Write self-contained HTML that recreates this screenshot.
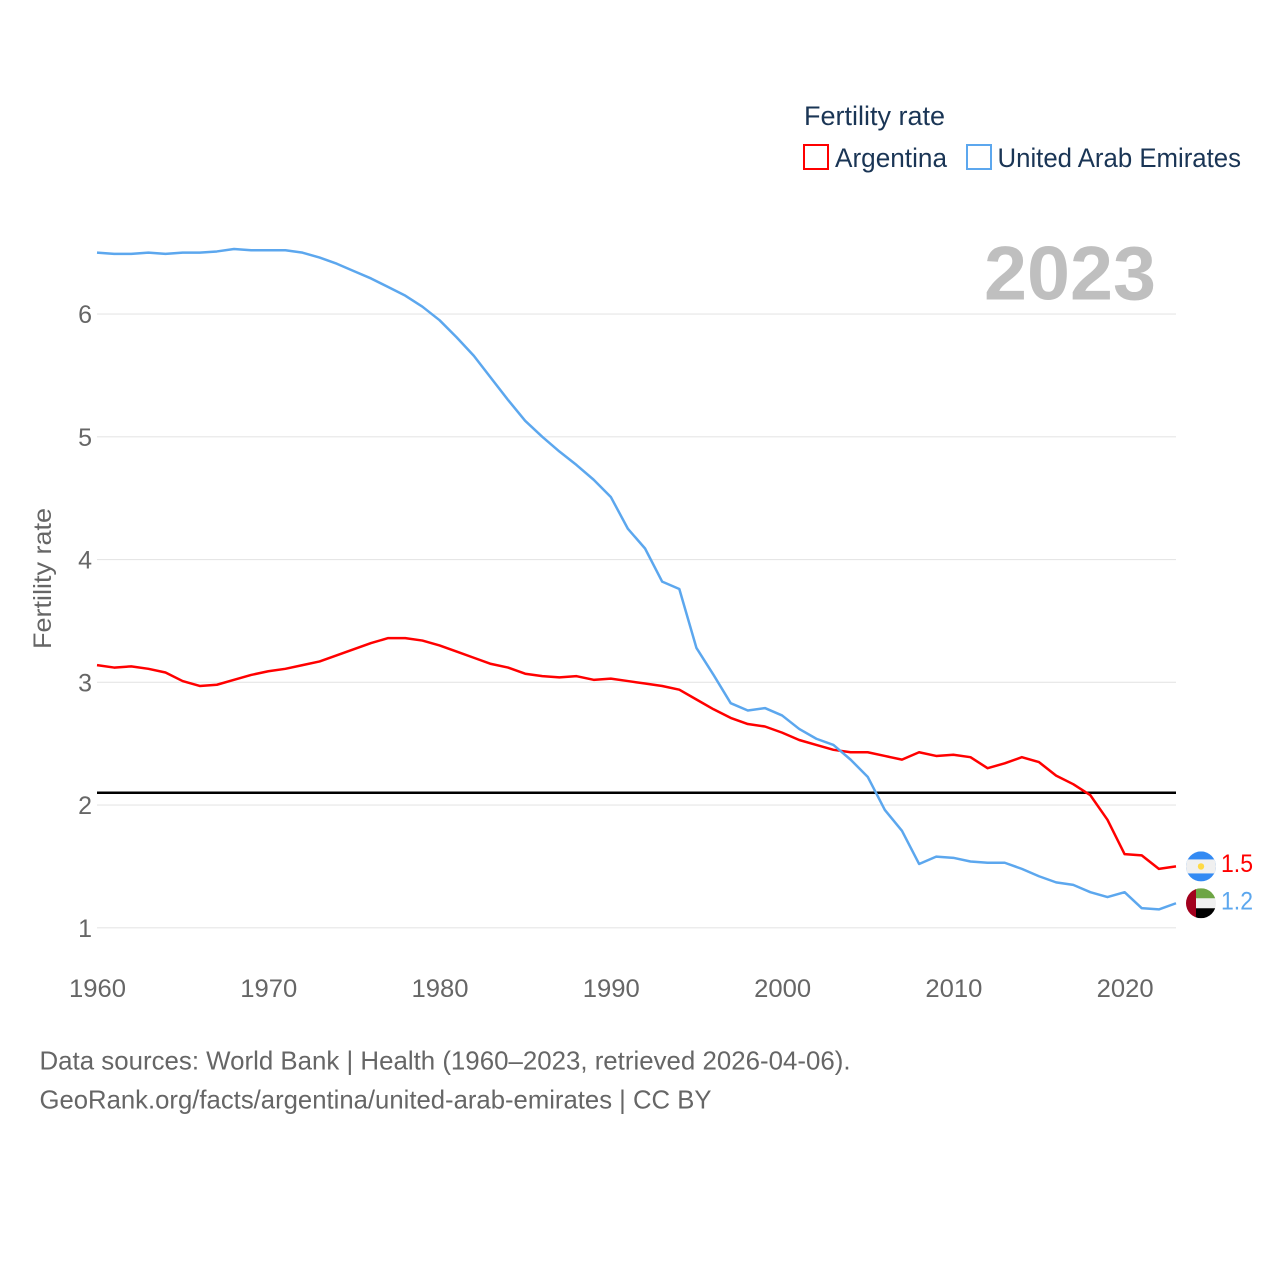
<!DOCTYPE html>
<html lang="en">
<head>
<meta charset="utf-8">
<title>Fertility rate: Argentina and United Arab Emirates</title>
<style>
html,body{margin:0;padding:0;background:#fff}
svg{display:block;font-family:"Liberation Sans",sans-serif}
</style>
</head>
<body>
<svg id="chart" width="1280" height="1280" viewBox="0 0 1280 1280" xmlns="http://www.w3.org/2000/svg">
  <defs>
    <clipPath id="clip-ar"><circle id="clip-ar-c" r="15"></circle></clipPath>
    <clipPath id="clip-ae"><circle id="clip-ae-c" r="15"></circle></clipPath>
  </defs>
  <rect x="0" y="0" width="1280" height="1280" fill="#fff"></rect>

  <g id="grid"></g>
  <g id="yticks"></g>
  <g id="xticks"></g>

  <text transform="translate(51,649) rotate(-90)" font-size="25" fill="#666" textLength="141" lengthAdjust="spacingAndGlyphs">Fertility rate</text>

  <text x="984" y="299.5" font-size="76" font-weight="700" fill="#bfbfbf" textLength="172" lengthAdjust="spacingAndGlyphs">2023</text>

  <line id="refline" stroke="#000" stroke-width="2.5"></line>
  <path id="line-ar" fill="none" stroke="#ff0000" stroke-width="2.5" stroke-linejoin="round"></path>
  <path id="line-ae" fill="none" stroke="#5ca7ee" stroke-width="2.5" stroke-linejoin="round"></path>

  <g id="flag-ar" clip-path="url(#clip-ar)"></g>
  <g id="flag-ae" clip-path="url(#clip-ae)"></g>
  <text id="end-ar" x="1221" font-size="25" fill="#ff0000" textLength="32" lengthAdjust="spacingAndGlyphs"></text>
  <text id="end-ae" x="1221" font-size="25" fill="#5ca7ee" textLength="32" lengthAdjust="spacingAndGlyphs"></text>

  <g>
    <text x="804" y="125" font-size="27" fill="#1a3555" textLength="141" lengthAdjust="spacingAndGlyphs">Fertility rate</text>
    <rect x="804" y="145" width="24" height="24" fill="none" stroke="#ff0000" stroke-width="2"></rect>
    <text x="835" y="167" font-size="27" fill="#1a3555" textLength="112" lengthAdjust="spacingAndGlyphs">Argentina</text>
    <rect x="967" y="145" width="24" height="24" fill="none" stroke="#5ca7ee" stroke-width="2"></rect>
    <text x="997.5" y="167" font-size="27" fill="#1a3555" textLength="243.5" lengthAdjust="spacingAndGlyphs">United Arab Emirates</text>
  </g>

  <text x="39.5" y="1069.5" font-size="26" fill="#666" textLength="811" lengthAdjust="spacingAndGlyphs">Data sources: World Bank | Health (1960–2023, retrieved 2026-04-06).</text>
  <text x="39.5" y="1108.5" font-size="26" fill="#666" textLength="672" lengthAdjust="spacingAndGlyphs">GeoRank.org/facts/argentina/united-arab-emirates | CC BY</text>
</svg>
<script>
const startYear = 1960;
const argentina = [3.14,3.12,3.13,3.11,3.08,3.01,2.97,2.98,3.02,3.06,3.09,3.11,3.14,3.17,3.22,3.27,3.32,3.36,3.36,3.34,3.30,3.25,3.20,3.15,3.12,3.07,3.05,3.04,3.05,3.02,3.03,3.01,2.99,2.97,2.94,2.86,2.78,2.71,2.66,2.64,2.59,2.53,2.49,2.45,2.43,2.43,2.40,2.37,2.43,2.40,2.41,2.39,2.30,2.34,2.39,2.35,2.24,2.17,2.08,1.88,1.60,1.59,1.48,1.50];
const uae = [6.50,6.49,6.49,6.50,6.49,6.50,6.50,6.51,6.53,6.52,6.52,6.52,6.50,6.46,6.41,6.35,6.29,6.22,6.15,6.06,5.95,5.81,5.66,5.48,5.30,5.13,5.00,4.88,4.77,4.65,4.51,4.25,4.09,3.82,3.76,3.28,3.06,2.83,2.77,2.79,2.73,2.62,2.54,2.49,2.37,2.23,1.96,1.79,1.52,1.58,1.57,1.54,1.53,1.53,1.48,1.42,1.37,1.35,1.29,1.25,1.29,1.16,1.15,1.20];
const yTicks = [1,2,3,4,5,6];
const xTicks = [1960,1970,1980,1990,2000,2010,2020];
const replacementRate = 2.1;
const endYear = 2023;

const NS = 'http://www.w3.org/2000/svg';
const xScale = year => 97 + (year - 1960) * (1176 - 97) / 63;
const yScale = value => 927.8 - (value - 1) * 122.75;
const make = (tag, parent, attrs) => {
  const el = document.createElementNS(NS, tag);
  for (const k in attrs) el.setAttribute(k, attrs[k]);
  parent.appendChild(el);
  return el;
};
const byId = id => document.getElementById(id);

yTicks.forEach(v => {
  const line = make('line', byId('grid'), {x1: xScale(1960), x2: xScale(endYear), y1: yScale(v), y2: yScale(v), stroke: '#e6e6e6', 'stroke-width': 1.2});
  
  
  const label = make('text', byId('yticks'), {x: 92, y: yScale(v) + 9, 'text-anchor': 'end', 'font-size': 25, fill: '#666'});
  label.textContent = String(v);
  
  
});

xTicks.forEach(y => {
  const label = make('text', byId('xticks'), {x: xScale(y) - 28, y: 997, 'font-size': 25, fill: '#666', textLength: 57, lengthAdjust: 'spacingAndGlyphs'});
  label.textContent = String(y);
  
  
});

const toPath = values => values.map((v, i) => (i ? 'L' : 'M') + xScale(startYear + i).toFixed(2) + ' ' + yScale(v).toFixed(2)).join('');
byId('line-ar').setAttribute('d', toPath(argentina));
byId('line-ae').setAttribute('d', toPath(uae));

const ref = byId('refline');
ref.setAttribute('x1', xScale(1960));
ref.setAttribute('x2', xScale(endYear));
ref.setAttribute('y1', yScale(replacementRate));
ref.setAttribute('y2', yScale(replacementRate));

const lastAr = argentina[argentina.length - 1];
const lastAe = uae[uae.length - 1];
const cx = xScale(endYear) + 25;
const cyAr = yScale(lastAr);
const cyAe = yScale(lastAe);

byId('end-ar').textContent = lastAr.toFixed(1);
byId('end-ar').setAttribute('y', cyAr + 5.5);
byId('end-ae').textContent = lastAe.toFixed(1);
byId('end-ae').setAttribute('y', cyAe + 6);

byId('clip-ar-c').setAttribute('cx', cx);
byId('clip-ar-c').setAttribute('cy', cyAr);
byId('clip-ae-c').setAttribute('cx', cx);
byId('clip-ae-c').setAttribute('cy', cyAe);

const fa = byId('flag-ar');
make('rect', fa, {x: cx - 15, y: cyAr - 15, width: 30, height: 30, fill: '#338af3'});
make('rect', fa, {x: cx - 15, y: cyAr - 7, width: 30, height: 14, fill: '#f0f0f0'});
make('circle', fa, {cx: cx, cy: cyAr, r: 3.2, fill: '#ffda44'});

const fe = byId('flag-ae');
make('rect', fe, {x: cx - 15, y: cyAe - 15, width: 30, height: 30, fill: '#f0f0f0'});
make('rect', fe, {x: cx - 5, y: cyAe - 15, width: 20, height: 10, fill: '#6da544'});
make('rect', fe, {x: cx - 5, y: cyAe + 5, width: 20, height: 10, fill: '#000'});
make('rect', fe, {x: cx - 15, y: cyAe - 15, width: 10, height: 30, fill: '#a2001d'});
</script>
</body>
</html>
